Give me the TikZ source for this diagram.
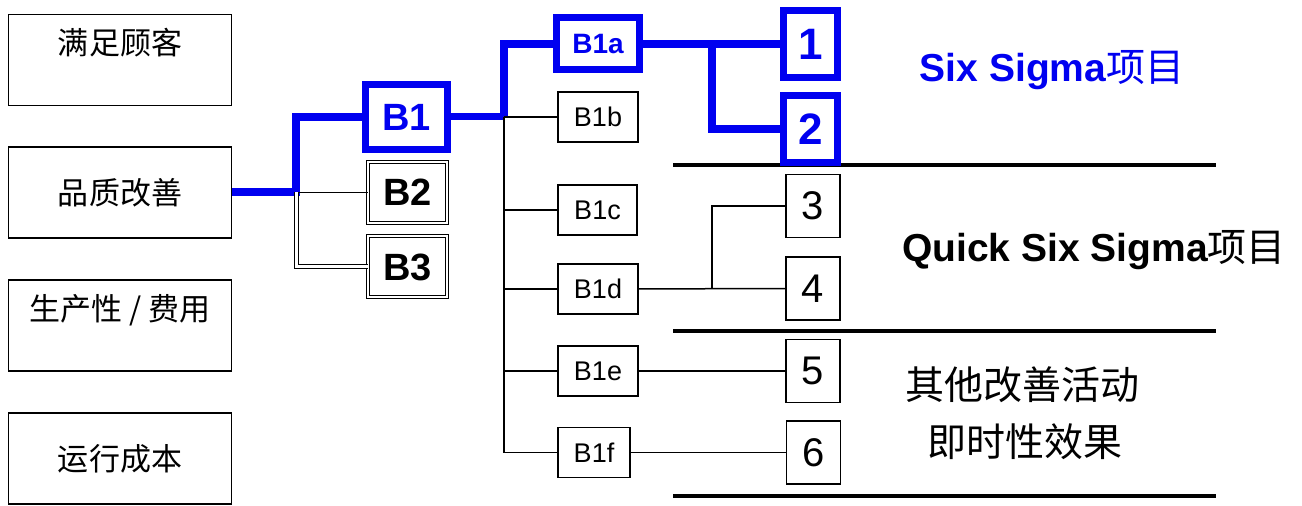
\documentclass[tikz,border=0pt]{standalone}
\usepackage{fontspec}
\setmainfont{Liberation Sans}
\newfontfamily\cjk{Noto Sans CJK SC}
\definecolor{sigblue}{RGB}{0,0,240}

\begin{document}
\begin{tikzpicture}
[x=0.5bp,y=-0.5bp
,bx/.style={draw,line width=0.75bp,inner sep=0pt}
,lbox/.style={bx,minimum width=111.5bp,minimum height=45.5bp}
,ctxt/.style={font=\cjk\fontsize{15.5bp}{18bp}\selectfont}
,sbox/.style={bx,minimum width=40bp,minimum height=25bp,font=\fontsize{13.5bp}{16bp}\selectfont}
,nbox/.style={bx,minimum width=27bp,minimum height=31.5bp,font=\fontsize{20bp}{24bp}\selectfont}
,dbox/.style={bx,line width=0.5bp,double,double distance=1bp,minimum width=39.5bp,minimum height=30.5bp,font=\bfseries\fontsize{19bp}{23bp}\selectfont}
,hot/.style={bx,draw=sigblue,line width=3.5bp,text=sigblue}
,bl/.style={draw=sigblue,line width=4bp}
,tl/.style={draw=black,line width=0.75bp}
,sep/.style={draw=black,line width=2bp}
,big/.style={font=\bfseries\fontsize{19.5bp}{23bp}\selectfont}
,cbig/.style={font=\cjk\fontsize{19.5bp}{23bp}\selectfont}
]
\useasboundingbox (0,0) rectangle (1302,506);
% separators
\draw[sep] (673,165) -- (1216,165);
\draw[sep] (673,331) -- (1216,331);
\draw[sep] (673,496) -- (1216,496);
% left column
\node[lbox] (cust) at (120,60) {};
\node[ctxt] (custtxt) at (120,43) {满足顾客};
\node[lbox,ctxt] (qual) at (120,192.5) {品质改善};
\node[lbox] (prod) at (120,325.5) {};
\node[ctxt] (prodtxt) at (120,310) {生产性 / 费用};
\node[lbox,ctxt] (cost) at (120,458.5) {运行成本};
% B level
\node[hot,minimum width=41bp,minimum height=32.5bp,font=\bfseries\fontsize{19bp}{23bp}\selectfont] (b1) at (406.5,117) {B1};
\node[dbox] (b2) at (407.5,192.5) {B2};
\node[dbox] (b3) at (407.5,267) {B3};
\node[hot,minimum width=41.5bp,minimum height=26bp,font=\bfseries\fontsize{14bp}{17bp}\selectfont] (b1a) at (598,44) {B1a};
\node[sbox] (b1b) at (598,117) {B1b};
\node[sbox,minimum width=39.5bp] (b1c) at (597.5,210) {B1c};
\node[sbox] (b1d) at (598,289) {B1d};
\node[sbox] (b1e) at (598,371) {B1e};
\node[sbox,minimum width=36bp] (b1f) at (594,452.5) {B1f};
% projects
\node[hot,minimum width=27bp,minimum height=33.5bp,font=\bfseries\fontsize{22bp}{26bp}\selectfont] (p1) at (810.5,44) {1};
\node[hot,minimum width=27bp,minimum height=33.5bp,font=\bfseries\fontsize{22bp}{26bp}\selectfont] (p2) at (810.5,129) {2};
\node[nbox] (p3) at (813,206) {3};
\node[nbox] (p4) at (813,288.5) {4};
\node[nbox] (p5) at (813,371) {5};
\node[nbox] (p6) at (813.5,452.5) {6};
% junctions
\coordinate (ja) at (296,192.5);
\coordinate (jb) at (504,117);
\coordinate (jc) at (712,44);
\coordinate (jd) at (712,289);
\draw[bl] (qual) -- (ja) |- (b1);
\draw[tl] (ja) -- (b2);
\draw[tl,line width=0.5bp,double,double distance=1.5bp] (ja) |- (b3);
\draw[bl,line width=3.5bp] (b1) -- (jb);
\draw[bl] (jb) |- (b1a);
\draw[tl,line width=1.25bp] (jb) -- (jb |- b1f);
\foreach \n in {b1b,b1c,b1d,b1e,b1f}
  \draw[tl] (jb |- \n) -- (\n);
\draw[bl] (b1a) -- (p1);
\draw[bl] (jc) |- (p2);
\draw[tl] (b1d) -- (p4);
\draw[tl] (jd) |- (p3);
\draw[tl] (b1e) -- (p5);
\draw[tl] (b1f) -- (p6);
% right texts
\node[big,text=sigblue] (ss) at (1052,70) {Six Sigma{\cjk\mdseries 项目}};
\node[big] (qss) at (1094,250) {Quick Six Sigma{\cjk\mdseries 项目}};
\node[cbig] (oth1) at (1022,385) {其他改善活动};
\node[cbig] (oth2) at (1025,442) {即时性效果};
\end{tikzpicture}
\end{document}
